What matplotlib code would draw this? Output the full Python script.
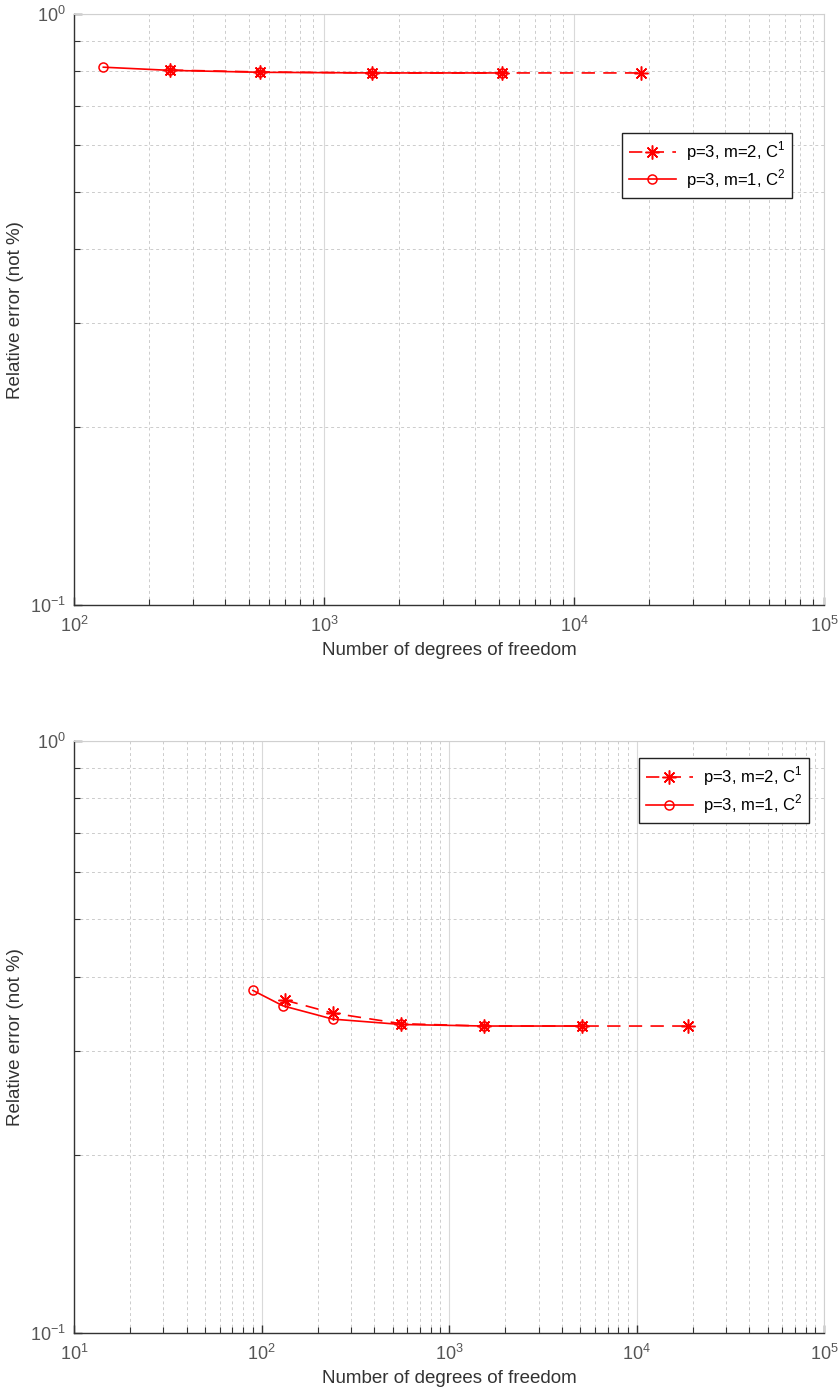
import matplotlib
matplotlib.use("Agg")
import matplotlib.pyplot as plt
from matplotlib.ticker import LogLocator, NullFormatter

plt.rcParams['font.family'] = ['Liberation Sans', 'DejaVu Sans']
plt.rcParams['mathtext.fontset'] = 'custom'
plt.rcParams['mathtext.rm'] = 'Liberation Sans'
plt.rcParams['axes.unicode_minus'] = False

# first case
dof_c1_a = [242, 555, 1556, 5150, 18500]
err_c1_a = [0.804, 0.798, 0.795, 0.795, 0.795]
dof_c2_a = [131, 242, 555, 1556, 5150]
err_c2_a = [0.813, 0.803, 0.797, 0.795, 0.795]

# second case
dof_c1_b = [133, 240, 555, 1545, 5120, 18700]
err_c1_b = [0.365, 0.347, 0.333, 0.330, 0.330, 0.330]
dof_c2_b = [90, 130, 240, 555, 1545, 5120]
err_c2_b = [0.379, 0.357, 0.339, 0.332, 0.330, 0.330]

lab_c1 = 'p=3, m=2, C$^1$'
lab_c2 = 'p=3, m=1, C$^2$'

fig = plt.figure(figsize=(8.39, 13.91), dpi=100)
ax1 = fig.add_axes([0.0882, 0.565, 0.894, 0.4249])
ax2 = fig.add_axes([0.0882, 0.0417, 0.894, 0.4256])

star = (8, 2, 0)
dash = (0, (8, 5))


def style_axes(ax, xlim):
    ax.set_xscale('log')
    ax.set_yscale('log')
    ax.set_xlim(*xlim)
    ax.set_ylim(0.1, 1)
    ax.xaxis.set_major_locator(LogLocator(base=10, numticks=10))
    ax.xaxis.set_minor_locator(LogLocator(base=10, subs=range(2, 10), numticks=20))
    ax.yaxis.set_minor_locator(LogLocator(base=10, subs=range(2, 10), numticks=20))
    ax.yaxis.set_minor_formatter(NullFormatter())
    ax.xaxis.set_minor_formatter(NullFormatter())
    ax.grid(True, which='major', color='#d9d9d9', linestyle='-', linewidth=0.8)
    ax.grid(True, which='minor', color='#cccccc', linestyle=(0, (3, 3)), linewidth=0.7)
    ax.set_axisbelow(True)
    for s in ['top', 'right']:
        ax.spines[s].set_color('#d0d0d0')
    for s in ['left', 'bottom']:
        ax.spines[s].set_color('#333333')
        ax.spines[s].set_linewidth(1.0)
    ax.tick_params(which='both', direction='in', top=False, right=False,
                   colors='#333333', labelcolor='#555555', labelsize=13)
    ax.tick_params(which='major', length=6, width=1.0)
    ax.tick_params(which='minor', length=4, width=0.8)
    ax.tick_params(axis='x', which='major', pad=8)
    ax.tick_params(axis='y', which='major', pad=6)
    ax.set_xlabel('Number of degrees of freedom', fontsize=13.5, color='#333333', labelpad=4)
    ax.set_ylabel('Relative error (not %)', fontsize=13.5, color='#333333', labelpad=4)


def add_legend(ax, anchor):
    leg = ax.legend(loc='upper right', bbox_to_anchor=anchor, borderaxespad=0,
                    fontsize=12, frameon=True, fancybox=False, edgecolor='#222222',
                    framealpha=1, handlelength=2.8, borderpad=0.4, labelspacing=0.25,
                    handletextpad=0.6)
    leg.get_frame().set_linewidth(1.0)


ax1.plot(dof_c1_a, err_c1_a, color='red', linestyle=dash, linewidth=1.2,
         marker=star, markersize=10, markeredgewidth=1.1, label=lab_c1)
ax1.plot(dof_c2_a, err_c2_a, color='red', linestyle='-', linewidth=1.2,
         marker='o', markersize=6.5, markerfacecolor='none', markeredgewidth=1.1, label=lab_c2)
style_axes(ax1, (1e2, 1e5))
add_legend(ax1, (0.957, 0.799))

ax2.plot(dof_c1_b, err_c1_b, color='red', linestyle=dash, linewidth=1.2,
         marker=star, markersize=10, markeredgewidth=1.1, label=lab_c1)
ax2.plot(dof_c2_b, err_c2_b, color='red', linestyle='-', linewidth=1.2,
         marker='o', markersize=6.5, markerfacecolor='none', markeredgewidth=1.1, label=lab_c2)
style_axes(ax2, (1e1, 1e5))
add_legend(ax2, (0.98, 0.971))

fig.savefig('out.png', dpi=100)
